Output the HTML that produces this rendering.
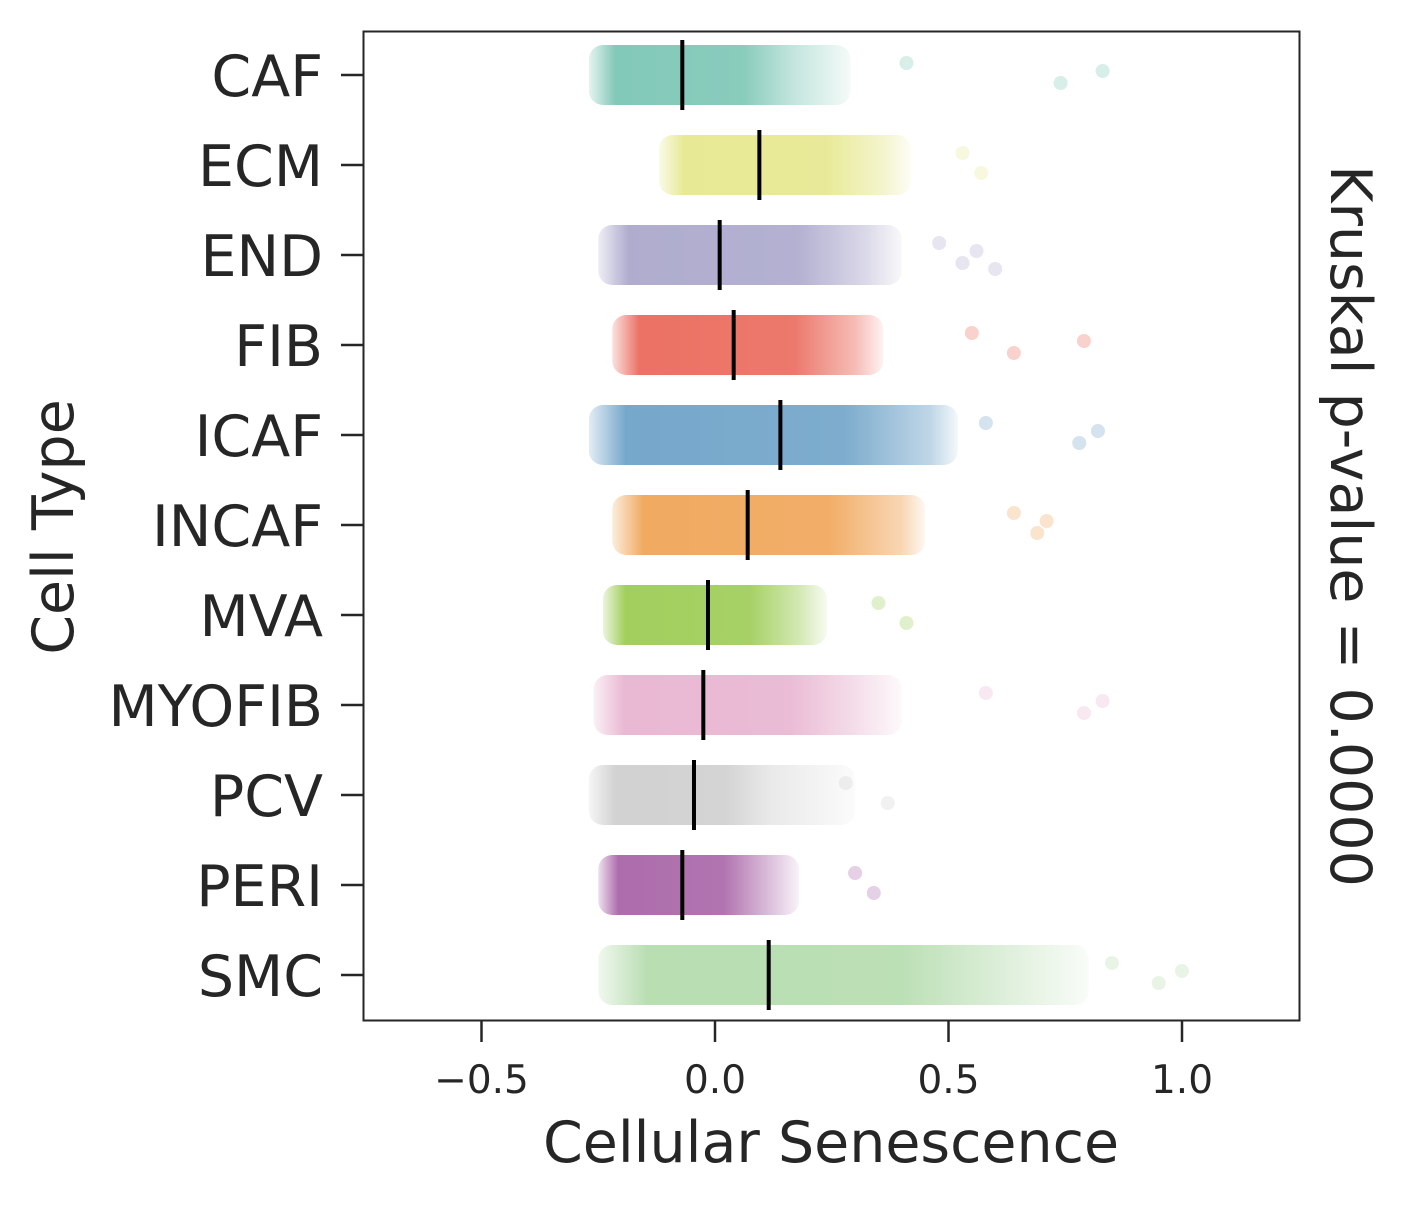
<!DOCTYPE html>
<html><head><meta charset="utf-8">
<style>
html,body{margin:0;padding:0;background:#fff;}
svg{display:block;font-family:"DejaVu Sans","Liberation Sans",sans-serif;}
</style></head>
<body>
<svg id="chart" width="1404" height="1205" viewBox="0 0 1404 1205">
<defs id="defs"></defs>
<g id="marks"></g>
<rect x="363.5" y="31.5" width="936" height="989" fill="none" stroke="#262626" stroke-width="2"/>
<g id="axes"></g>
<text x="831" y="1162" text-anchor="middle" font-size="57" fill="#262626">Cellular Senescence</text>
<text transform="translate(73,527) rotate(-90)" text-anchor="middle" font-size="57" fill="#262626">Cell Type</text>
<text transform="translate(1331,526) rotate(90)" text-anchor="middle" font-size="57" fill="#262626">Kruskal p-value = 0.0000</text>
</svg>
<script>
const categories = ["CAF","ECM","END","FIB","ICAF","INCAF","MVA","MYOFIB","PCV","PERI","SMC"];
const medians = [-0.07,0.095,0.01,0.04,0.14,0.07,-0.015,-0.025,-0.045,-0.07,0.115];
const coreLo = [-0.27,-0.12,-0.25,-0.22,-0.27,-0.22,-0.24,-0.26,-0.27,-0.25,-0.25];
const coreHi = [0.17,0.36,0.32,0.30,0.46,0.40,0.18,0.30,0.12,0.11,0.62];
const tailHi = [0.29,0.42,0.40,0.36,0.52,0.45,0.24,0.40,0.30,0.18,0.80];
const outliers = [[0.41,0.74,0.83],[0.53,0.57],[0.48,0.53,0.56,0.6],[0.55,0.64,0.79],[0.58,0.78,0.82],[0.64,0.69,0.71],[0.35,0.41],[0.58,0.79,0.83],[0.28,0.37],[0.3,0.34],[0.85,0.95,1.0]];
const colors = ["#7cc6b5","#e6e88e","#aba8cc","#ea6a5c","#6fa3c8","#f0a558","#9dcc55","#e8b4d0","#cfcfcf","#a965a8","#b5dcae"];
const xTicks = [-0.5,0.0,0.5,1.0];
const xTickLabels = ["\u22120.5","0.0","0.5","1.0"];

const NS="http://www.w3.org/2000/svg";
const xScale = v => 715 + v*467;
const yScale = i => 75 + i*90;
const marks=document.getElementById('marks'), axes=document.getElementById('axes'), defs=document.getElementById('defs');
function mk(tag,attrs,parent){const e=document.createElementNS(NS,tag);for(const k in attrs)e.setAttribute(k,attrs[k]);parent.appendChild(e);return e;}

categories.forEach((c,i)=>{
  const y=yScale(i);
  const g=mk('linearGradient',{id:'g'+i,gradientUnits:'userSpaceOnUse',x1:xScale(coreLo[i]),x2:xScale(tailHi[i]),y1:0,y2:0},defs);
  const span=tailHi[i]-coreLo[i];
  const f=(coreHi[i]-coreLo[i])/span;
  mk('stop',{offset:0,'stop-color':colors[i],'stop-opacity':0.2},g);
  mk('stop',{offset:0.1,'stop-color':colors[i],'stop-opacity':0.95},g);
  mk('stop',{offset:f*0.75,'stop-color':colors[i],'stop-opacity':0.9},g);
  mk('stop',{offset:f,'stop-color':colors[i],'stop-opacity':0.45},g);
  mk('stop',{offset:1,'stop-color':colors[i],'stop-opacity':0.08},g);
  const band=mk('rect',{x:xScale(coreLo[i]),y:y-30,width:xScale(tailHi[i])-xScale(coreLo[i]),height:60,rx:14,fill:'url(#g'+i+')'},marks);
  
  
  outliers[i].forEach((v,j)=>{
    const dy=[-12,8,-4,14][j%4];
    const p=mk('circle',{cx:xScale(v),cy:y+dy,r:7,fill:colors[i],'fill-opacity':0.3},marks);
    
    
  });
  const m=mk('line',{x1:xScale(medians[i]),x2:xScale(medians[i]),y1:y-35,y2:y+35,stroke:'#000','stroke-width':4},marks);
  
  
  const t=mk('line',{x1:341,x2:363,y1:y,y2:y,stroke:'#262626','stroke-width':2.5},axes);
  
  
  const l=mk('text',{x:323,y:y+21,'text-anchor':'end','font-size':57,fill:'#262626'},axes);
  l.textContent=c;
  
  
});
xTicks.forEach((v,i)=>{
  const x=xScale(v);
  const t=mk('line',{x1:x,x2:x,y1:1020,y2:1042,stroke:'#262626','stroke-width':2.5},axes);
  
  
  const l=mk('text',{x:x,y:1093,'text-anchor':'middle','font-size':39,fill:'#262626'},axes);
  l.textContent=xTickLabels[i];
  
  
});
</script>
</body></html>
